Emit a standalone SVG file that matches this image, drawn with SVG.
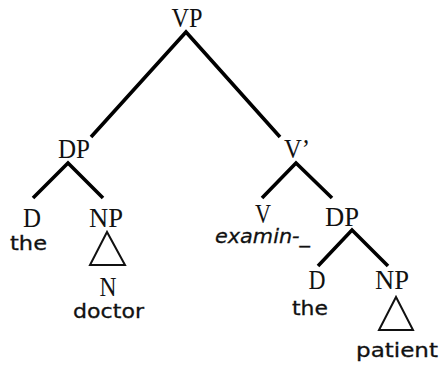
<svg xmlns="http://www.w3.org/2000/svg" width="441" height="367" viewBox="0 0 441 367">
<style>
.cat{font-family:"Liberation Serif","Times New Roman",serif;font-size:27px;fill:#111;text-anchor:middle}
.w{font-family:"DejaVu Sans",sans-serif;font-size:20px;fill:#111;stroke:#111;stroke-width:0.3;text-anchor:start}
.e{stroke:#000;stroke-width:3.6;fill:none;stroke-linecap:butt}
.tri{stroke:#111;stroke-width:2;fill:none;stroke-linejoin:miter}
</style>
<rect width="441" height="367" fill="#fff"/>
<g id="connectors">
<polyline class="e" points="91,137 186,32 280,137"/>
<polyline class="e" points="33,198 68,163 103,198"/>
<polyline class="e" points="262,198 296,163 332,198"/>
<polyline class="e" points="318,266 352,230 388,266"/>
</g>
<g id="VP"><text class="cat" x="187" y="27" textLength="31" lengthAdjust="spacingAndGlyphs">VP</text></g>
<g id="DP1"><text class="cat" x="74" y="158" textLength="32" lengthAdjust="spacingAndGlyphs">DP</text></g>
<g id="Vbar"><text class="cat" x="297" y="158" textLength="26" lengthAdjust="spacingAndGlyphs">V’</text></g>
<g id="D1"><text class="cat" x="32" y="227" textLength="18" lengthAdjust="spacingAndGlyphs">D</text><text class="w" x="10" y="250" textLength="37" lengthAdjust="spacingAndGlyphs">the</text></g>
<g id="NP1"><text class="cat" x="106" y="227" textLength="34" lengthAdjust="spacingAndGlyphs">NP</text><polygon class="tri" points="107,232 90,265 125,265"/></g>
<g id="N"><text class="cat" x="108" y="296" textLength="17" lengthAdjust="spacingAndGlyphs">N</text><text class="w" x="73" y="318" textLength="71" lengthAdjust="spacingAndGlyphs">doctor</text></g>
<g id="V"><text class="cat" x="263" y="223" textLength="16" lengthAdjust="spacingAndGlyphs">V</text><text class="w" x="215" y="243" font-style="italic" textLength="95" lengthAdjust="spacingAndGlyphs">examin-_</text></g>
<g id="DP2"><text class="cat" x="342" y="226" textLength="34" lengthAdjust="spacingAndGlyphs">DP</text></g>
<g id="D2"><text class="cat" x="317" y="289" textLength="17" lengthAdjust="spacingAndGlyphs">D</text><text class="w" x="292" y="315" textLength="36" lengthAdjust="spacingAndGlyphs">the</text></g>
<g id="NP2"><text class="cat" x="392" y="289" textLength="34" lengthAdjust="spacingAndGlyphs">NP</text><polygon class="tri" points="396,297 379,330 413,330"/><text class="w" x="356" y="357" textLength="82" lengthAdjust="spacingAndGlyphs">patient</text></g>
</svg>
